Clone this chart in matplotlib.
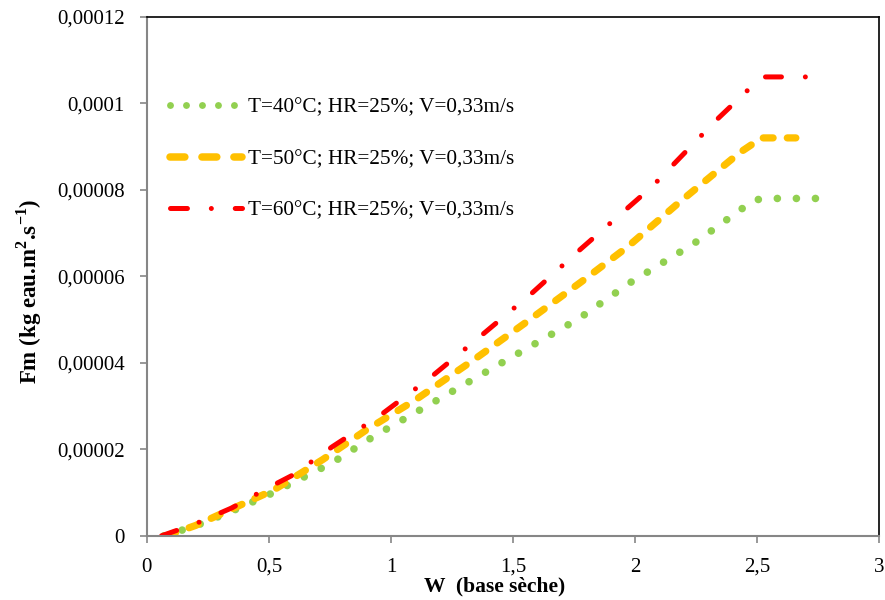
import matplotlib
matplotlib.use('Agg')
import matplotlib.pyplot as plt
from matplotlib.lines import Line2D
from matplotlib.ticker import FuncFormatter, MultipleLocator

# data
w_40 = [0.07, 0.2, 0.34, 0.5, 0.62, 0.76, 0.93, 1.2, 1.47, 1.77, 1.98, 2.24, 2.49, 2.57, 2.76]
fm_40 = [0, 2.3e-6, 5.5e-6, 9.5e-6, 1.29e-5, 1.69e-5, 2.3e-5, 3.17e-5, 4.05e-5, 5.02e-5,
         5.85e-5, 6.75e-5, 7.77e-5, 7.8e-5, 7.8e-5]

w_50 = [0.08, 0.2, 0.34, 0.52, 0.72, 0.9, 1.1, 1.34, 1.55, 1.78, 1.97, 2.18, 2.43, 2.52, 2.66]
fm_50 = [0, 2.4e-6, 6.0e-6, 1.06e-5, 1.76e-5, 2.45e-5, 3.14e-5, 4.07e-5, 4.92e-5, 5.87e-5,
         6.68e-5, 7.7e-5, 8.86e-5, 9.2e-5, 9.2e-5]

w_60 = [0.06, 0.2, 0.35, 0.48, 0.6, 0.76, 0.955, 1.16, 1.36, 1.58, 1.77, 2.07, 2.33, 2.52, 2.75]
fm_60 = [0, 2.8e-6, 6.5e-6, 1.06e-5, 1.41e-5, 2.06e-5, 2.78e-5, 3.65e-5, 4.58e-5, 5.62e-5,
         6.59e-5, 8.07e-5, 9.59e-5, 1.061e-4, 1.061e-4]

labels = ['T=40°C; HR=25%; V=0,33m/s',
          'T=50°C; HR=25%; V=0,33m/s',
          'T=60°C; HR=25%; V=0,33m/s']
colors = ['#92D050', '#FFC000', '#FF0000']

plt.rcParams['font.family'] = ['Liberation Serif', 'DejaVu Serif']
plt.rcParams['mathtext.fontset'] = 'custom'
plt.rcParams['mathtext.rm'] = 'Liberation Serif'
plt.rcParams['mathtext.bf'] = 'Liberation Serif:bold'
plt.rcParams['lines.scale_dashes'] = False

fig = plt.figure(figsize=(8.85, 6), dpi=100)
ax = fig.add_axes([0.166, 0.107, 0.827, 0.865])

# plot lines (dash lengths in points)
ax.plot(w_40, fm_40, color=colors[0], lw=5.5, dashes=(0.01, 13.7),
        dash_capstyle='round')
ax.plot(w_50, fm_50, color=colors[1], lw=5.2, dashes=(7.1, 10.2),
        dash_capstyle='round')
ax.plot(w_60, fm_60, color=colors[2], lw=3.6, dashes=(11.5, 17.2, 0.01, 17.2),
        dash_capstyle='round')

ax.set_xlim(0, 3)
ax.set_ylim(0, 0.00012)
ax.xaxis.set_major_locator(MultipleLocator(0.5))
ax.yaxis.set_major_locator(MultipleLocator(0.00002))

def comma_fmt(v, pos):
    s = '%.5f' % v
    s = s.rstrip('0').rstrip('.')
    if s == '' or float(s) == 0:
        s = '0'
    return s.replace('.', ',')

ax.xaxis.set_major_formatter(FuncFormatter(comma_fmt))
ax.yaxis.set_major_formatter(FuncFormatter(comma_fmt))

for side in ['left', 'bottom']:
    ax.spines[side].set_color('#868686')
    ax.spines[side].set_linewidth(1.5)
for side in ['top', 'right']:
    ax.spines[side].set_color('black')
    ax.spines[side].set_linewidth(1.2)

ax.tick_params(axis='both', direction='out', length=5, width=1.2, color='#868686',
               labelsize=15, labelcolor='black')
ax.tick_params(axis='y', pad=11)
ax.tick_params(axis='x', pad=11)

ax.set_xlabel('W  (base sèche)', fontsize=15.5, fontweight='bold')
ax.xaxis.set_label_coords(0.475, -0.079)
ax.set_ylabel(r'Fm (kg eau.m$^{\mathbf{2}}$.s$^{\mathbf{-1}}$)', fontsize=16.5, fontweight='bold')
ax.yaxis.set_label_coords(-0.14, 0.472)

# legend handles use the (looser) pattern of the reference legend
handles = [
    Line2D([], [], color=colors[0], lw=5, dashes=(0.01, 11.5), dash_capstyle='round'),
    Line2D([], [], color=colors[1], lw=5.4, dashes=(10.7, 12.3), dash_capstyle='round'),
    Line2D([], [], color=colors[2], lw=3.6, dashes=(12.2, 17.2, 0.01, 17.2), dash_capstyle='round'),
]
ax.legend(handles, labels, loc='center left', bbox_to_anchor=(0.031, 0.726),
          frameon=False, fontsize=15.3, handlelength=3.4, handletextpad=0.3,
          labelspacing=1.5, borderpad=0, borderaxespad=0)

plt.savefig('out.png', dpi=100)
